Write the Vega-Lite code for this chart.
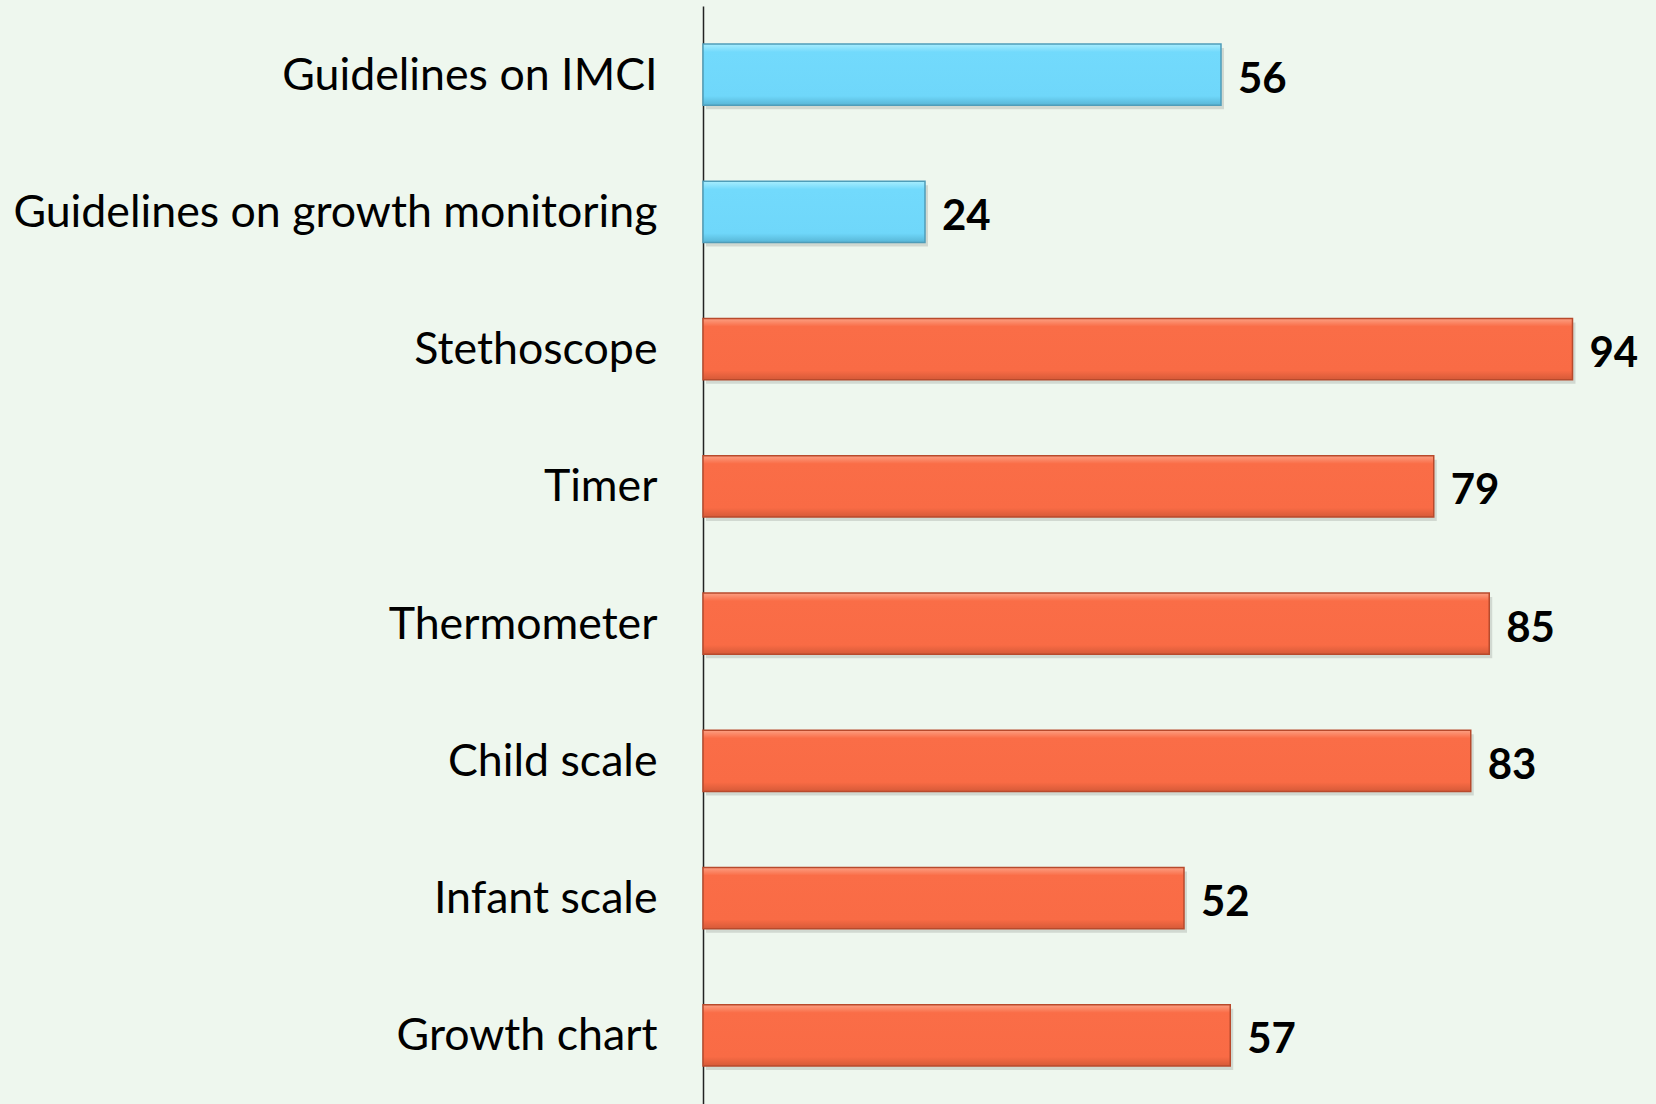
{
  "$schema": "https://vega.github.io/schema/vega-lite/v6.json",
  "width": 925,
  "height": 1098,
  "autosize": {"type": "none"},
  "padding": {"left": 703, "top": 6, "right": 28, "bottom": 0},
  "background": "#EEF7EE",
  "config": {"view": {"stroke": null}},
  "data": {
    "values": [
      {"item": "Guidelines on IMCI", "value": 56, "group": "Guidelines"},
      {"item": "Guidelines on growth monitoring", "value": 24, "group": "Guidelines"},
      {"item": "Stethoscope", "value": 94, "group": "Equipment"},
      {"item": "Timer", "value": 79, "group": "Equipment"},
      {"item": "Thermometer", "value": 85, "group": "Equipment"},
      {"item": "Child scale", "value": 83, "group": "Equipment"},
      {"item": "Infant scale", "value": 52, "group": "Equipment"},
      {"item": "Growth chart", "value": 57, "group": "Equipment"}
    ]
  },
  "encoding": {
    "y": {
      "field": "item",
      "type": "nominal",
      "sort": null,
      "scale": {"paddingInner": 0.555, "paddingOuter": 0.2775},
      "axis": {
        "title": null,
        "ticks": false,
        "domainColor": "#222222",
        "domainWidth": 1.5,
        "labelFont": "Lato",
        "labelFontSize": 44.7,
        "labelColor": "#000000",
        "labelPadding": 46,
        "labelOffset": 2,
        "labelLimit": 800
      }
    },
    "x": {
      "field": "value",
      "type": "quantitative",
      "scale": {"domain": [0, 100]},
      "axis": null
    }
  },
  "layer": [
    {
      "mark": {"type": "bar", "color": "#000000", "opacity": 0.12, "xOffset": 3, "yOffset": 4}
    },
    {
      "transform": [{"filter": "datum.group === 'Guidelines'"}],
      "mark": {
        "type": "bar",
        "stroke": "#4F9DB9",
        "strokeWidth": 1.5,
        "color": {
          "gradient": "linear",
          "x1": 0, "y1": 0, "x2": 0, "y2": 1,
          "stops": [
            {"offset": 0, "color": "#A8EDFE"},
            {"offset": 0.13, "color": "#72DAFC"},
            {"offset": 0.85, "color": "#6FD7FA"},
            {"offset": 1, "color": "#58B6D6"}
          ]
        }
      }
    },
    {
      "transform": [{"filter": "datum.group === 'Equipment'"}],
      "mark": {
        "type": "bar",
        "stroke": "#B84A2C",
        "strokeWidth": 1.5,
        "color": {
          "gradient": "linear",
          "x1": 0, "y1": 0, "x2": 0, "y2": 1,
          "stops": [
            {"offset": 0, "color": "#FC9F82"},
            {"offset": 0.13, "color": "#FA6D47"},
            {"offset": 0.85, "color": "#F96B45"},
            {"offset": 1, "color": "#D65A38"}
          ]
        }
      }
    },
    {
      "mark": {
        "type": "text",
        "align": "left",
        "baseline": "middle",
        "dx": 17,
        "dy": 5,
        "font": "Lato",
        "fontSize": 42,
        "fontWeight": "bold",
        "color": "#000000"
      },
      "encoding": {"text": {"field": "value", "type": "quantitative"}}
    }
  ]
}
